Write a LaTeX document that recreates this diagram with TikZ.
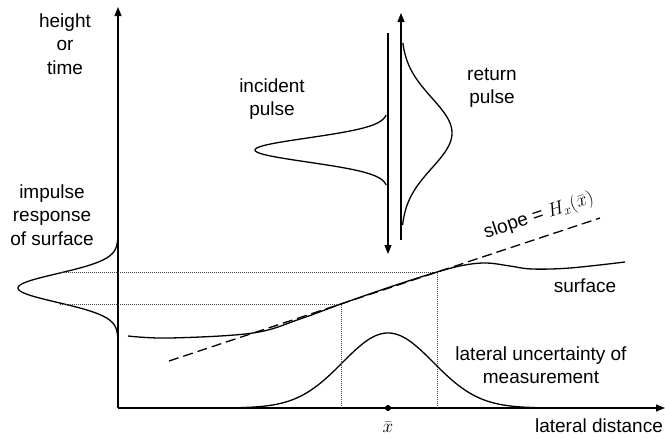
\RequirePackage{fix-cm}
\documentclass[tikz,border=0pt]{standalone}
\usepackage{fontspec}
\setmainfont{Liberation Sans}
\usetikzlibrary{arrows.meta}
\begin{document}
\begin{tikzpicture}[x=1pt,y=-1pt,
  lbl/.style={font=\fontsize{19}{23.5}\selectfont, align=center, inner sep=0pt},
  curve/.style={line width=1.3pt},
  axis/.style={line width=1.1pt, -{Triangle[length=9pt,width=7pt]}},
  dots/.style={line width=0.8pt, dash pattern=on 1pt off 1pt, black!75},
  tangent/.style={line width=1.3pt, dash pattern=on 10pt off 5pt}]
\useasboundingbox (0,0) rectangle (665,439);
% axes
\coordinate (O) at (118,408);
\coordinate (yTop) at (118,7);
\coordinate (xEnd) at (665,408);
\draw[axis] (O) -- (yTop);
\draw[axis] (O) -- (xEnd);
% pulse lines
\coordinate (incTop) at (388,33);
\coordinate (incBot) at (388,254);
\draw[axis] (incTop) -- (incBot);
\coordinate (retBot) at (401,240);
\coordinate (retTop) at (401,13);
\draw[axis] (retBot) -- (retTop);
% incident pulse
\draw[curve] plot[domain=115:185,samples=120,smooth] ({388-133*exp(0-0.5*(((\x-150)/12)^2))},\x);
% return pulse
\draw[curve] plot[domain=43:225,samples=120,smooth] ({401+51*exp(0-0.5*(((\x-133)/35)^2))},\x);
% impulse response
\draw[curve] plot[domain=240:336,samples=120,smooth] ({118-100*exp(0-0.5*(((\x-288)/14.4)^2))},\x);
% lateral uncertainty
\draw[curve] plot[domain=240:536,samples=150,smooth] (\x,{408-75*exp(0-0.5*(((\x-388)/45.5)^2))});
% key points
\coordinate (pL) at (341,304);
\coordinate (pR) at (437,272);
\coordinate (hL) at (60,304);
\coordinate (hR) at (60,272);
\coordinate (vL) at (341,408);
\coordinate (vR) at (437,408);
\draw[dots] (hR) -- (pR) -- (vR);
\draw[dots] (hL) -- (pL) -- (vL);
% surface
\draw[curve] plot[smooth, tension=0.6] coordinates {(128,336) (170,338) (253,333) (300,319) (341,304) (390,287) (437,272) (465,265) (487,263) (510,266) (532,269) (570,268) (625,262)};
% tangent
\coordinate (tA) at (169,361);
\coordinate (tB) at (600,218);
\draw[tangent] (tA) -- (tB);
% xbar dot
\node[circle, fill, inner sep=0pt, minimum size=6pt] (xbar) at (388,408) {};
% labels
\node[lbl] (hlabel) at (65,44) {height\\or\\time};
\node[lbl] (irlabel) at (52,215) {impulse\\response\\of surface};
\node[lbl] (inc) at (272,99) {incident\\pulse};
\node[lbl] (ret) at (492,88) {return\\pulse};
\node[lbl, rotate=18.4] (slope) at (539,216) {slope = $H_x(\bar{x})$};
\node[lbl] (surf) at (585,286) {surface};
\node[lbl] (lu) at (541,365) {lateral uncertainty of\\measurement};
\node[lbl] (ld) at (599,426) {lateral distance};
\node[lbl] (xb) at (388,427) {$\bar{x}$};
\end{tikzpicture}
\end{document}
